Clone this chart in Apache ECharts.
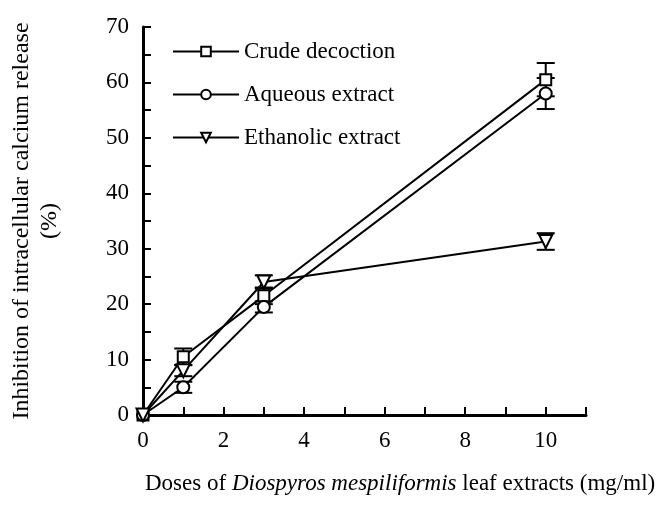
<!DOCTYPE html>
<html>
<head>
<meta charset="utf-8">
<script src="https://cdn.jsdelivr.net/npm/echarts@6/dist/echarts.min.js"></script>
<style>html,body{margin:0;padding:0;background:#fff}#c{width:666px;height:518px}</style>
</head>
<body>
<div id="c"></div>
<script>
const doses = [0, 1, 3, 10];
const crude = [0, 10.5, 21.5, 60.5];
const crudeErr = [0, 1.5, 1.5, 3];
const aqueous = [0, 5, 19.5, 58];
const aqueousErr = [0, 1, 1, 2.8];
const ethanolic = [0, 8, 24, 31.3];
const ethanolicErr = [0, 1, 1.2, 1.5];
const seriesNames = ['Crude decoction', 'Aqueous extract', 'Ethanolic extract'];

const FONT = 'Liberation Serif';
const FS = 23;
const chart = echarts.init(document.getElementById('c'), null, {renderer: 'canvas'});

function pairs(vals) { return doses.map((d, i) => [d, vals[i]]); }
function errData(vals, errs) { return doses.map((d, i) => [d, vals[i] - errs[i], vals[i] + errs[i]]); }

function errSeries(vals, errs) {
  return {
    type: 'custom',
    data: errData(vals, errs),
    z: 3,
    silent: true,
    renderItem: function (params, api) {
      const x = api.value(0);
      const lo = api.coord([x, api.value(1)]);
      const hi = api.coord([x, api.value(2)]);
      const hw = 9;
      if (api.value(2) - api.value(1) <= 0) return null;
      const st = {stroke: '#000', lineWidth: 2};
      return {
        type: 'group',
        children: [
          {type: 'line', shape: {x1: lo[0], y1: lo[1], x2: hi[0], y2: hi[1]}, style: st},
          {type: 'line', shape: {x1: lo[0] - hw, y1: lo[1], x2: lo[0] + hw, y2: lo[1]}, style: st},
          {type: 'line', shape: {x1: hi[0] - hw, y1: hi[1], x2: hi[0] + hw, y2: hi[1]}, style: st}
        ]
      };
    }
  };
}

function lineSeries(name, vals, symbol, size, rotate) {
  return {
    name: name,
    type: 'line',
    data: pairs(vals),
    symbol: symbol,
    symbolSize: size,
    symbolRotate: rotate || 0,
    showAllSymbol: true,
    z: 5,
    lineStyle: {color: '#000', width: 2},
    itemStyle: {color: '#fff', borderColor: '#000', borderWidth: 2},
    emphasis: {disabled: true}
  };
}

const option = {
  animation: false,
  backgroundColor: '#fff',
  grid: {left: 137, right: 80, top: 27, bottom: 103, containLabel: false},
  legend: {
    data: seriesNames,
    orient: 'vertical',
    left: 167,
    top: 35,
    itemGap: 20,
    itemWidth: 66,
    itemHeight: 12,
    textStyle: {fontFamily: FONT, fontSize: FS, color: '#000'},
    selectedMode: false
  },
  xAxis: {
    type: 'value',
    min: 0, max: 11, interval: 1,
    axisLine: {lineStyle: {color: '#000', width: 3}},
    axisTick: {inside: true, length: 8, lineStyle: {color: '#000', width: 2}},
    splitLine: {show: false},
    axisLabel: {
      fontFamily: FONT, fontSize: FS, color: '#000', margin: 14,
      formatter: v => (v % 2 === 0 && v <= 10) ? String(v) : ''
    }
  },
  yAxis: {
    type: 'value',
    min: 0, max: 70, interval: 5,
    name: 'Inhibition of intracellular calcium release\n(%)',
    nameLocation: 'middle',
    nameGap: 79,
    nameTextStyle: {fontFamily: FONT, fontSize: 24, color: '#000', lineHeight: 28},
    axisLine: {lineStyle: {color: '#000', width: 3}},
    axisTick: {inside: true, length: 8, lineStyle: {color: '#000', width: 2}},
    splitLine: {show: false},
    axisLabel: {
      fontFamily: FONT, fontSize: FS, color: '#000', margin: 14,
      formatter: v => (v % 10 === 0) ? String(v) : ''
    }
  },
  graphic: [{
    type: 'text',
    left: 145,
    top: 472,
    style: {
      text: 'Doses of {i|Diospyros mespiliformis} leaf extracts (mg/ml)',
      font: FS + 'px "Liberation Serif"',
      fill: '#000',
      rich: {i: {fontStyle: 'italic', fontFamily: FONT, fontSize: FS, fill: '#000'}}
    }
  }],
  series: [
    errSeries(crude, crudeErr),
    errSeries(aqueous, aqueousErr),
    errSeries(ethanolic, ethanolicErr),
    lineSeries(seriesNames[0], crude, 'rect', 11),
    lineSeries(seriesNames[1], aqueous, 'circle', 12),
    lineSeries(seriesNames[2], ethanolic, 'triangle', 13, 180)
  ]
};
chart.setOption(option);
</script>
</body>
</html>
